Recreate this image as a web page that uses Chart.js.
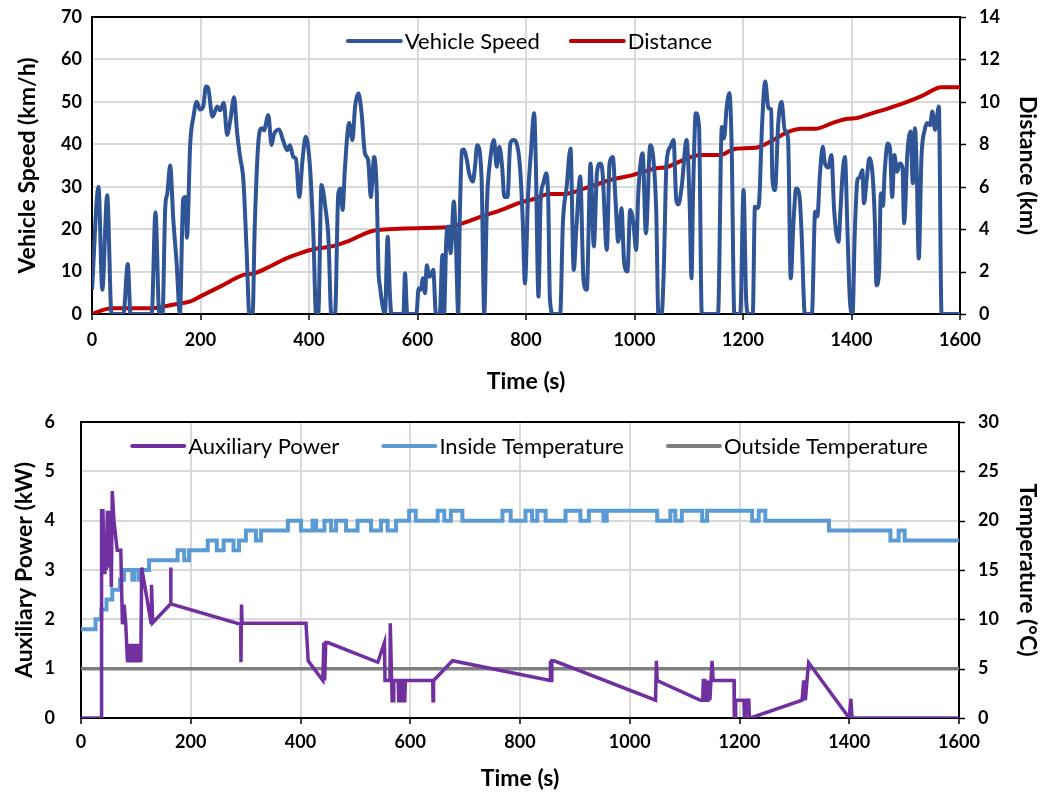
<!DOCTYPE html>
<html><head><meta charset="utf-8">
<script src="https://cdn.jsdelivr.net/npm/chart.js@4.4.1/dist/chart.umd.min.js"></script>
<style>
html,body{margin:0;padding:0;background:#fff;}
#wrap{width:1044px;height:802px;position:relative;}
canvas{position:absolute;left:0;}
</style></head><body>
<div id="wrap">
<canvas id="topChart" width="1044" height="400" style="top:0"></canvas>
<canvas id="botChart" width="1044" height="402" style="top:400px"></canvas>
</div>
<script>
// ---------- DATA ----------
const timeTicks = [0, 200, 400, 600, 800, 1000, 1200, 1400, 1600];

const speedTime = [0,12,19,28,36,58,66,71,110,117,124,130,135,139,144,150,156,162,168,172,175,181,187,193,199,205,210,214,222,231,236,243,249,255,262,267,273,279,285,290,296,300,307,313,317,325,331,335,345,352,360,365,371,376,382,388,394,401,408,413,417,423,430,436,441,448,454,458,462,466,474,480,485,491,497,503,509,514,520,525,528,531,534,540,545,549,552,574,577,581,598,602,606,610,614,617,622,626,629,634,641,646,649,653,657,661,667,671,675,678,682,685,691,695,702,706,710,718,723,728,734,741,746,751,756,760,766,771,777,782,789,794,798,804,809,815,818,823,827,832,837,841,844,850,863,868,875,882,888,893,900,906,912,919,925,931,937,941,949,954,960,965,970,976,981,987,992,998,1003,1007,1015,1021,1029,1035,1040,1044,1050,1054,1059,1066,1072,1077,1081,1087,1096,1102,1105,1108,1113,1119,1124,1154,1161,1165,1170,1175,1179,1184,1195,1201,1206,1210,1218,1222,1227,1230,1235,1241,1247,1252,1254,1259,1265,1271,1277,1283,1288,1293,1298,1304,1308,1314,1327,1333,1337,1342,1347,1351,1357,1363,1368,1376,1380,1384,1388,1392,1397,1402,1406,1411,1415,1420,1423,1428,1433,1439,1443,1446,1451,1454,1458,1461,1467,1471,1475,1479,1484,1489,1494,1497,1503,1509,1513,1517,1520,1524,1529,1535,1540,1545,1549,1554,1561,1566,1600];
const speedValues = [5.7,30,5.7,28,0,0,11.8,0,0,24,0,0,25,28.5,35,22,12,0,27,27.6,18,40,46.5,50,48.2,48.9,53.6,53.3,46.5,48.9,48,49.8,42.2,45.7,51.1,43.4,37,31.6,15,0,0,20.6,41,43.8,43.3,46.9,39.8,42.2,43.5,41,38.6,39.8,37,36.5,27.6,36.3,41.8,36,19,0,0,30.4,25.3,17.4,0,0,28.4,29.6,24.5,33.9,45,41,48.9,52,47.3,37.9,36.3,27.6,37,28.4,10.4,6.4,3.3,0,18.2,4.9,0,0,9.6,0,0,6,5.7,8.4,4.9,11.5,8.8,9.4,10.4,0,0,13.9,0,17.4,20.6,14.3,26.5,16,0,22.9,38.6,38.8,36.3,33.2,31.2,34.7,39.8,32.4,0,26.1,36.3,41,34.7,39.4,34.7,27.6,27.6,40.2,41,40.5,34.5,22,7.2,28.4,37.9,47.3,36.3,4.1,26.9,30.8,33.2,26.9,3.7,0,0,21.4,30,39,10.4,20.6,32.4,8,5.7,35.5,15.9,33.5,35.5,33.5,15.1,35.5,37,26.9,17,24.9,12,10,24.5,21.4,15.1,28.4,37.9,19,39.8,36.3,24.5,0,0,10.4,35.5,39.4,41,26.9,25.8,30,41,24.5,8.4,28.4,47.3,44.1,0,0,44.1,41.4,48.9,52,40.2,0,0,29.2,3,0,0,25.3,25,26.9,44.1,54.8,48.5,48.2,32.4,29.2,45,50,43.4,41.5,8.4,21.4,29.6,28,19,0,0,24.1,23,33.2,39.4,35.5,34.5,37.5,24.5,17,25.3,33.9,37,22.1,3.3,0,19,31.6,32.2,33.9,26.1,31.6,36.7,32.5,22.1,6.8,10.4,28.4,25.5,33.2,40.2,39,27.6,37.5,33.5,35.5,34.5,21.4,37.9,43,30.8,43.8,35,13.1,37,43.4,45,44.5,47.7,43.4,48.9,0,0];

const distTime = [0,36,110,131,156,180,199,236,279,300,322,359,383,408,446,470,525,655,680,717,755,789,809,844,870,912,960,998,1040,1059,1084,1121,1158,1183,1214,1228,1256,1280,1308,1333,1367,1392,1410,1439,1464,1500,1530,1566,1600];
const distValues = [0,0.27,0.27,0.35,0.47,0.58,0.82,1.29,1.84,1.92,2.16,2.63,2.86,3.05,3.21,3.41,3.96,4.09,4.25,4.59,4.91,5.25,5.38,5.66,5.66,5.96,6.35,6.56,6.87,6.92,7.19,7.5,7.5,7.77,7.82,7.86,8.2,8.55,8.73,8.73,9.02,9.2,9.24,9.47,9.66,9.97,10.28,10.69,10.69];

const auxTime = [0,37,37.5,40,42,43.6,46,48,51,52.8,55.3,57,60,66,72.5,75.5,78.5,81.6,84.7,88,91,94,97,100,103,106,109,110.6,127.6,128.5,130.7,163,163.5,164,291,291.5,292.5,293.5,410,414,440.7,442.5,444,446,450,541,553,554,563,563.6,566,567,569,570,578,579,582,583,587,588,590,591,641,641.5,642.5,677,855,855.5,857,858,862,1047,1048.5,1050,1129,1133,1134,1137,1138,1142,1142.5,1146,1148,1150,1152,1190,1190.5,1192,1193,1208,1209,1211,1212,1217,1218,1220,1314,1317,1320,1323,1326,1400,1403,1405,1600];
const auxValues = [0,0,4.2,4.2,2.95,3.7,3.0,4.2,3.05,4.2,2.65,4.6,4.0,3.4,3.4,1.9,2.3,1.9,1.13,1.5,1.13,1.5,1.13,1.5,1.13,1.5,1.13,3.05,1.93,2.7,1.93,2.31,3.05,2.31,1.9,1.13,2.3,1.92,1.92,1.16,0.76,1.53,0.76,1.53,1.53,1.13,1.53,0.76,0.76,1.92,0.76,0.35,0.35,0.76,0.76,0.35,0.35,0.76,0.76,0.35,0.35,0.76,0.76,0.35,0.76,1.16,0.76,1.16,0.76,1.16,1.16,0.36,1.16,0.76,0.36,0.36,0.76,0.76,0.36,0.36,0.76,0.36,0.76,1.16,0.76,0.76,0,0,0.36,0.36,0,0,0.36,0.36,0,0,0.36,0.76,0.36,0.76,1.12,0,0.39,0,0];

const insideTime = [0,26.5,37,46.5,57,71,78.5,93.5,97.5,105.5,110,124,176,188,197,231,247.5,260,278,288,300.5,318.7,328,377,401,422,428.5,443.6,455.8,464.8,483,504,528.5,546.7,558.8,574,598,610,650,662,674,695,768,783,810,822,831.5,846.7,883,910,925.5,952,958,1050,1074,1083,1095,1132,1141,1223,1235,1247,1363,1475,1490,1501,1600];
const insideValues = [9,10,11,12,13,14,15,14,15,14,15,16,17,16,17,18,17,18,17,18,19,18,19,20,19,20,19,20,19,20,19,20,19,20,19,20,21,20,21,20,21,20,21,20,21,20,21,20,21,20,21,20,21,20,21,20,21,20,21,20,21,20,19,18,19,18,18];

const outsideTime = [0, 1600];
const outsideValues = [5, 5];

const speedTicks = [0,10,20,30,40,50,60,70];
const distanceTicks = [0,2,4,6,8,10,12,14];
const powerTicks = [0,1,2,3,4,5,6];
const tempTicks = [0,5,10,15,20,25,30];

// ---------- helpers ----------
const FONT = "Lato, 'Open Sans', sans-serif";
const pts = (xs, ys) => xs.map((x, i) => ({x: x, y: ys[i]}));
const plain = v => String(v);

const framePlugin = {
  id: 'frame',
  beforeDatasetsDraw(chart) {
    const {ctx, chartArea: a} = chart;
    ctx.save();
    ctx.strokeStyle = '#000';
    ctx.lineWidth = 2;
    ctx.strokeRect(a.left, a.top, a.right - a.left, a.bottom - a.top);
    ctx.restore();
  },
  afterDraw(chart) {
    // short outward tick marks on the right axis
    const s = chart.scales.y1, ctx = chart.ctx;
    ctx.save();
    ctx.strokeStyle = '#000';
    ctx.lineWidth = 1.5;
    s.ticks.forEach(t => {
      const y = Math.round(s.getPixelForValue(t.value)) + 0.5;
      ctx.beginPath();
      ctx.moveTo(s.left, y);
      ctx.lineTo(s.left + 6, y);
      ctx.stroke();
    });
    ctx.restore();
  }
};

const lineLegend = {
  id: 'lineLegend',
  afterDatasetsDraw(chart, args, opts) {
    const {ctx, chartArea: a} = chart;
    ctx.save();
    ctx.font = opts.font;
    const items = chart.data.datasets.map(d => ({label: d.label, color: d.borderColor, w: ctx.measureText(d.label).width}));
    const sw = opts.sampleWidth, g1 = opts.textGap, g2 = opts.itemGap;
    const total = items.reduce((s, it) => s + sw + g1 + it.w, 0) + g2 * (items.length - 1);
    let x = (a.left + a.right) / 2 - total / 2 + (opts.shift || 0);
    const y = a.top + opts.offsetY;
    ctx.textBaseline = 'middle';
    ctx.textAlign = 'left';
    items.forEach(it => {
      ctx.strokeStyle = it.color;
      ctx.lineWidth = 4;
      ctx.lineCap = 'round';
      ctx.beginPath();
      ctx.moveTo(x, y);
      ctx.lineTo(x + sw, y);
      ctx.stroke();
      ctx.fillStyle = '#000';
      ctx.fillText(it.label, x + sw + g1, y + 1);
      x += sw + g1 + it.w + g2;
    });
    ctx.restore();
  }
};

const tickFont = {family: FONT, size: 18, weight: 'bold'};
const titleFont = {family: FONT, size: 23, weight: 'bold'};
const gridCol = '#d9d9d9';
const clear = 'rgba(0,0,0,0)';

function xScale(height, pad, titlePadBottom) {
  return {
    type: 'linear', position: 'bottom', min: 0, max: 1600,
    afterBuildTicks: s => { s.ticks = timeTicks.map(v => ({value: v})); },
    ticks: {font: tickFont, color: '#000', padding: pad, maxRotation: 0, autoSkip: false, callback: plain},
    grid: {color: gridCol, lineWidth: 2, tickColor: '#000', tickLength: 6, tickWidth: 1.5},
    border: {display: false},
    title: {display: true, text: 'Time (s)', font: titleFont, color: '#000', padding: {top: 0, bottom: titlePadBottom}},
    afterFit: s => { s.height = height; }
  };
}

function leftScale(max, ticksArr, gap, title, titlePad, width) {
  return {
    position: 'left', min: 0, max: max,
    afterBuildTicks: s => { s.ticks = ticksArr.map(v => ({value: v})); },
    ticks: {font: tickFont, color: '#000', padding: 0, callback: plain},
    grid: {color: gridCol, lineWidth: 2, drawTicks: true, tickLength: gap, tickColor: clear},
    border: {display: false},
    title: {display: true, text: title, font: titleFont, color: '#000', padding: {top: titlePad, bottom: 0}},
    afterFit: s => { s.width = width; }
  };
}

function rightScale(max, ticksArr, title, width) {
  return {
    position: 'right', min: 0, max: max,
    afterBuildTicks: s => { s.ticks = ticksArr.map(v => ({value: v})); },
    ticks: {font: tickFont, color: '#000', padding: 0, callback: plain},
    grid: {drawOnChartArea: false, drawTicks: true, tickLength: 19, tickColor: clear},
    border: {display: false},
    title: {display: true, text: title, font: titleFont, color: '#000', padding: {top: 3, bottom: 0}},
    afterFit: s => { s.width = width; }
  };
}

// ---------- TOP CHART ----------
new Chart(document.getElementById('topChart'), {
  type: 'line',
  data: {
    datasets: [
      {label: 'Vehicle Speed', data: pts(speedTime, speedValues), yAxisID: 'y', borderColor: '#2F5597', backgroundColor: '#2F5597', borderWidth: 4, pointRadius: 0, cubicInterpolationMode: 'monotone', tension: 0.4},
      {label: 'Distance', data: pts(distTime, distValues), yAxisID: 'y1', borderColor: '#C00000', backgroundColor: '#C00000', borderWidth: 4, pointRadius: 0, cubicInterpolationMode: 'monotone', tension: 0.4}
    ]
  },
  options: {
    responsive: false, animation: false, events: [],
    layout: {padding: {top: 17, left: 0, right: 0, bottom: 0}},
    plugins: {legend: {display: false}, tooltip: {enabled: false},
      lineLegend: {font: "22px " + FONT, sampleWidth: 53, textGap: 4, itemGap: 31, offsetY: 24, shift: 4}},
    scales: {
      x: xScale(86, 9, 5),
      y: leftScale(70, speedTicks, 10, 'Vehicle Speed (km/h)', 14, 92),
      y1: rightScale(14, distanceTicks, 'Distance (km)', 84)
    }
  },
  plugins: [framePlugin, lineLegend]
});

// ---------- BOTTOM CHART ----------
new Chart(document.getElementById('botChart'), {
  type: 'line',
  data: {
    datasets: [
      {label: 'Auxiliary Power', data: pts(auxTime, auxValues), yAxisID: 'y', borderColor: '#7030A0', backgroundColor: '#7030A0', borderWidth: 3.5, pointRadius: 0, tension: 0},
      {label: 'Inside Temperature', data: pts(insideTime, insideValues), yAxisID: 'y1', borderColor: '#5B9BD5', backgroundColor: '#5B9BD5', borderWidth: 4, pointRadius: 0, stepped: true},
      {label: 'Outside Temperature', data: pts(outsideTime, outsideValues), yAxisID: 'y1', borderColor: '#7F7F7F', backgroundColor: '#7F7F7F', borderWidth: 3.5, pointRadius: 0}
    ]
  },
  options: {
    responsive: false, animation: false, events: [],
    layout: {padding: {top: 22, left: 0, right: 0, bottom: 0}},
    plugins: {legend: {display: false}, tooltip: {enabled: false},
      lineLegend: {font: "22px " + FONT, sampleWidth: 52, textGap: 4, itemGap: 44, offsetY: 24, shift: 10}},
    scales: {
      x: xScale(84, 7, 10),
      y: leftScale(6, powerTicks, 26, 'Auxiliary Power (kW)', 11, 81),
      y1: rightScale(30, tempTicks, 'Temperature (°C)', 85)
    }
  },
  plugins: [framePlugin, lineLegend]
});
</script>
</body></html>
